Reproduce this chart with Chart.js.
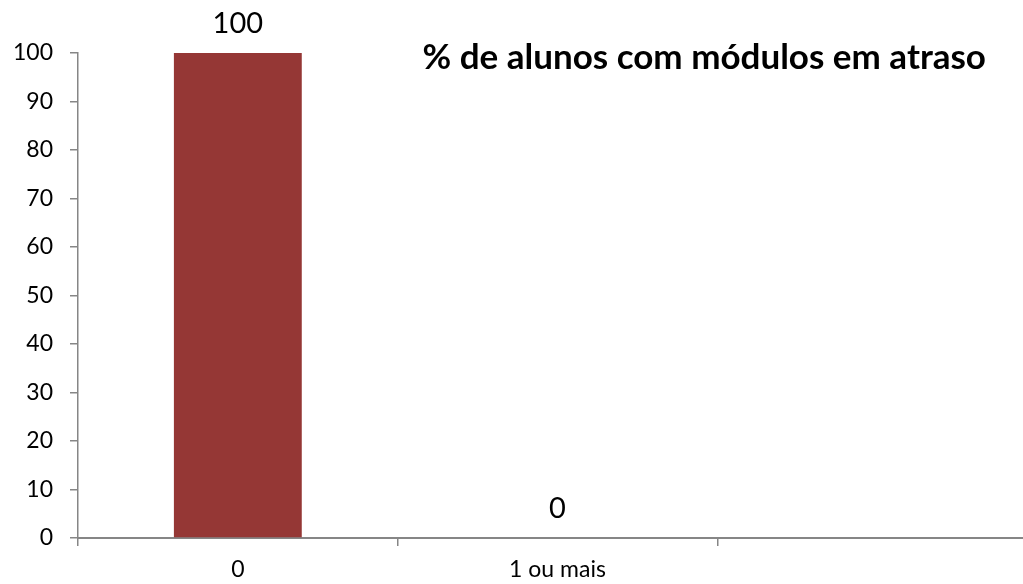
<!DOCTYPE html>
<html>
<head>
<meta charset="utf-8">
<script src="https://cdn.jsdelivr.net/npm/chart.js@4/dist/chart.umd.min.js"></script>
<style>
  html, body { margin: 0; padding: 0; background: #fff; overflow: hidden; }
  canvas { display: block; }
</style>
</head>
<body>
<canvas id="chart" width="1040" height="584"></canvas>
<script>
// ── Data ─────────────────────────────────────────────
const categories = ['0', '1 ou mais', ''];
const values     = [100, 0, null];
const yTicks     = [0, 10, 20, 30, 40, 50, 60, 70, 80, 90, 100];
const titleText  = '% de alunos com módulos em atraso';

const FONT = 'Lato, "Open Sans", sans-serif';

// value labels above the bars + chart title inside the plot
const labelPlugin = {
  id: 'labels',
  afterDatasetsDraw(chart) {
    const ctx = chart.ctx;
    const meta = chart.getDatasetMeta(0);
    ctx.save();
    ctx.fillStyle = '#000';
    ctx.font = '29px ' + FONT;
    ctx.textAlign = 'center';
    ctx.textBaseline = 'alphabetic';
    meta.data.forEach((bar, i) => {
      if (values[i] === null) return;
      ctx.fillText(String(values[i]), bar.x, bar.y - 20);
    });
    const a = chart.chartArea;
    ctx.font = 'bold 35px ' + FONT;
    ctx.fillText(titleText, a.left + (a.right - a.left) * 0.653, a.top + 16);
    ctx.restore();
  }
};

new Chart(document.getElementById('chart'), {
  type: 'bar',
  data: {
    labels: categories,
    datasets: [{
      data: values,
      backgroundColor: '#953735',
      barPercentage: 0.4,
      categoryPercentage: 1.0
    }]
  },
  options: {
    responsive: false,
    animation: false,
    layout: { padding: { top: 53, right: 3, left: 0, bottom: 0 } },
    plugins: { legend: { display: false }, tooltip: { enabled: false } },
    scales: {
      x: {
        grid: { offset: true, drawOnChartArea: false, tickLength: 8, color: '#868686', lineWidth: 1.5 },
        border: { color: '#868686', width: 2 },
        ticks: { color: '#000', font: { family: FONT, size: 23 }, padding: 10 },
        afterFit(s) { s.height = 46; }
      },
      y: {
        min: 0, max: 100,
        afterBuildTicks(s) { s.ticks = yTicks.map(v => ({ value: v })); },
        grid: { drawOnChartArea: false, tickLength: 8, color: '#868686', lineWidth: 1.5 },
        border: { color: '#868686', width: 1.5 },
        ticks: { color: '#000', font: { family: FONT, size: 23 }, padding: 17 },
        afterFit(s) { s.width = 78; }
      }
    }
  },
  plugins: [labelPlugin]
});
</script>
</body>
</html>
